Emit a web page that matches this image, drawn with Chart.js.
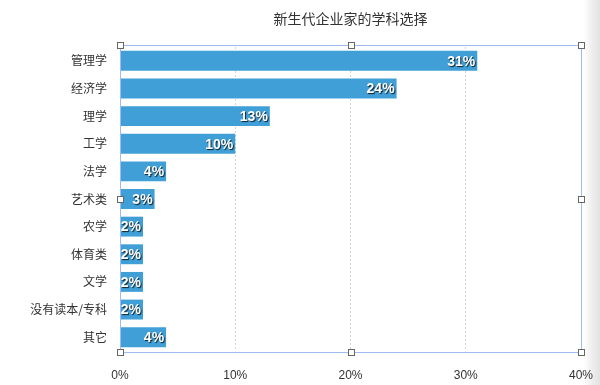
<!DOCTYPE html>
<html>
<head>
<meta charset="utf-8">
<script src="https://cdn.jsdelivr.net/npm/chart.js@4"></script>
<style>
  html, body { margin: 0; padding: 0; }
  body {
    width: 600px; height: 385px; overflow: hidden;
    background: linear-gradient(to right, #fff 0, #fff 584px, #f2f2f2 590px, #e2e2e2 600px);
  }
  #wrap { position: relative; width: 600px; height: 385px; }
  #title {
    position: absolute; left: 120px; width: 461px; top: 8px;
    text-align: center; font: 14px "Noto Sans CJK SC", sans-serif; color: #333;
  }
</style>
</head>
<body>
<div id="wrap">
  <div id="title">新生代企业家的学科选择</div>
  <canvas id="chart" width="600" height="385"></canvas>
</div>
<script>
let categories = ["管理学", "经济学", "理学", "工学", "法学", "艺术类", "农学", "体育类", "文学", "没有读本/专科", "其它"];
let shares = [31, 24, 13, 10, 4, 3, 2, 2, 2, 2, 4];
let xTicks = [0, 10, 20, 30, 40];

const fontFamily = '"Liberation Sans", "Noto Sans CJK SC", sans-serif';
const selBlue = "#9dbdf2";

// white value labels at the end of each bar
const valueLabels = {
    id: "valueLabels",
    afterDatasetsDraw(chart) {
        let ctx = chart.ctx;
        let meta = chart.getDatasetMeta(0);
        ctx.save();
        ctx.font = "bold 14px " + fontFamily;
        ctx.textAlign = "right";
        ctx.textBaseline = "middle";
        ctx.shadowColor = "rgba(0,0,0,0.8)";
        ctx.shadowOffsetX = 1;
        ctx.shadowOffsetY = 1;
        ctx.shadowBlur = 1;
        ctx.fillStyle = "#fff";
        meta.data.forEach((bar, i) => {
            ctx.fillText(shares[i] + "%", bar.x - 2, bar.y + 1);
        });
        ctx.restore();
    }
};

// selection frame with handles, sitting just outside the plot area
const selectionFrame = {
    id: "selectionFrame",
    afterDraw(chart) {
        let a = chart.chartArea;
        let ctx = chart.ctx;
        let top = Math.round(a.top) - 2, bottom = Math.round(a.bottom) + 1;
        let left = Math.round(a.left), right = Math.round(a.right);
        ctx.save();
        ctx.strokeStyle = selBlue;
        ctx.lineWidth = 1;
        ctx.strokeRect(left + 0.5, top + 0.5, right - left, bottom - top);
        let mx = Math.round((left + right) / 2), my = Math.round((top + bottom) / 2);
        let pts = [[left, top], [mx, top], [right, top], [left, my], [right, my],
                   [left, bottom], [mx, bottom], [right, bottom]];
        ctx.fillStyle = "#fff";
        ctx.strokeStyle = "#666";
        pts.forEach(p => {
            ctx.fillRect(p[0] - 3, p[1] - 3, 6, 6);
            ctx.strokeRect(p[0] - 2.5, p[1] - 2.5, 6, 6);
        });
        ctx.restore();
    }
};

new Chart(document.getElementById("chart"), {
    type: "bar",
    data: {
        labels: categories,
        datasets: [{
            data: shares,
            backgroundColor: "#419fd7",
            borderWidth: 0,
            barPercentage: 0.72,
            categoryPercentage: 1
        }]
    },
    options: {
        indexAxis: "y",
        responsive: false,
        animation: false,
        layout: { padding: { top: 47, right: 19, left: 0, bottom: 0 } },
        plugins: { legend: { display: false }, tooltip: { enabled: false } },
        scales: {
            x: {
                min: 0, max: 40,
                afterBuildTicks(scale) { scale.ticks = xTicks.map(v => ({ value: v })); },
                afterFit(scale) {
                    scale.height = 34;
                    scale.paddingLeft = 0;
                    scale.paddingRight = 0;
                },
                grid: {
                    color: ctx => (ctx.tick && ctx.tick.value > 0 && ctx.tick.value < 40) ? "#d4d4d4" : "rgba(0,0,0,0)",
                    drawTicks: false
                },
                border: { display: false, dash: [2, 2] },
                ticks: {
                    callback: v => v + "%",
                    color: "#333",
                    font: { family: fontFamily, size: 12 },
                    padding: 17,
                    maxRotation: 0
                }
            },
            y: {
                afterFit(scale) {
                    scale.width = 120;
                    scale.paddingTop = 0;
                    scale.paddingBottom = 0;
                },
                grid: { display: false },
                border: { display: false },
                ticks: {
                    color: "#333",
                    font: { family: '"Noto Sans CJK SC", sans-serif', size: 12 },
                    padding: 5
                }
            }
        }
    },
    plugins: [valueLabels, selectionFrame]
});
</script>
</body>
</html>
